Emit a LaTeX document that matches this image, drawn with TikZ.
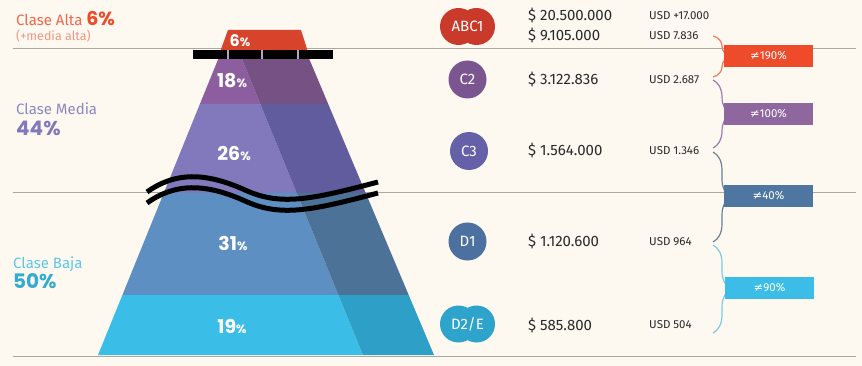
\documentclass[tikz,border=0pt]{standalone}
\usepackage{fontspec}
\setmainfont{Fira Sans}
\newfontfamily\popfont{Poppins}
\newfontfamily\symfont{DejaVu Sans}
\usetikzlibrary{decorations.pathreplacing}
\definecolor{bg}{HTML}{FDF9F1}
\definecolor{rule}{HTML}{ABA7A2}
\definecolor{ink}{HTML}{2A2A2A}
\definecolor{altared}{HTML}{D8432B}
\definecolor{mediafront}{HTML}{8D5E9F}
\definecolor{mediaside}{HTML}{765184}
\definecolor{lavfront}{HTML}{8179BC}
\definecolor{lavside}{HTML}{615C9E}
\definecolor{steelfront}{HTML}{5E8FC3}
\definecolor{steelside}{HTML}{4C7298}
\definecolor{cyanfront}{HTML}{3ABEE7}
\definecolor{cyanside}{HTML}{2E9FC6}
\definecolor{abcone}{HTML}{C93A2A}
\definecolor{ctwo}{HTML}{7B5590}
\definecolor{cthree}{HTML}{6660A8}
\definecolor{done}{HTML}{4C70A0}
\definecolor{dtwo}{HTML}{2EA3CB}
\definecolor{gapred}{HTML}{EE4B2B}
\definecolor{gappurple}{HTML}{8E679F}
\definecolor{gapsteel}{HTML}{4E76A0}
\definecolor{gapcyan}{HTML}{3BBDE8}
\definecolor{bracered}{HTML}{F07A63}
\definecolor{bracepurple}{HTML}{9A7AAD}
\definecolor{bracesteel}{HTML}{6D7F95}
\definecolor{bracecyan}{HTML}{7CC8E8}
\newcommand{\pc}{{\fontsize{12}{12}\selectfont\%}}
\newcommand{\approxne}{{\symfont ≠}}
\begin{document}
\begin{tikzpicture}[x=1pt,y=-1pt]
\tikzstyle{every node}+=[inner sep=0pt]
\tikzset{
  band/.style={text=white, font=\popfont\bfseries\fontsize{19}{19}\selectfont},
  money/.style={anchor=base west, text=ink, font=\fontsize{15}{15}\selectfont},
  usd/.style={anchor=base west, text=ink, font=\fontsize{11.5}{11.5}\selectfont},
  dot/.style={circle, minimum size=38pt, text=white, font=\fontsize{15}{15}\selectfont},
  duo/.style={text=white, font=\fontsize{15}{15}\selectfont},
  gapbox/.style={minimum width=89pt, minimum height=22pt, text=white, font=\fontsize{11.5}{11.5}\selectfont},
  sep/.style={draw=rule, line width=1pt},
  cbrace/.style={decorate, decoration={brace, amplitude=18pt}, line width=1.2pt},
  wave/.style={draw=black, line width=5pt},
  classname/.style={anchor=base west, font=\fontsize{15}{15}\selectfont},
  classpct/.style={anchor=base west, font=\popfont\bfseries\fontsize{20}{20}\selectfont}
}
\useasboundingbox (0,0) rectangle (862,366);
\fill [bg] (0,0) rectangle (862,366);
\draw [sep] (13,49) -- (856,49);
\draw [sep] (13,193) -- (856,193);
\draw [sep] (13,356) -- (856,356);
\fill [altared] (228,30) -- (301,30) -- (308,52) -- (220,52) -- cycle;
\fill [mediafront] (221.1,52) -- (239.0,52) -- (260.3,104) -- (199.9,104) -- cycle;
\fill [mediaside] (239.0,52) -- (306.3,52) -- (328.2,104) -- (260.3,104) -- cycle;
\fill [lavfront] (199.9,104) -- (260.3,104) -- (296.7,193) -- (163.8,193) -- cycle;
\fill [lavside] (260.3,104) -- (328.2,104) -- (365.7,193) -- (296.7,193) -- cycle;
\fill [steelfront] (163.8,193) -- (296.7,193) -- (338.4,295) -- (122.4,295) -- cycle;
\fill [steelside] (296.7,193) -- (365.7,193) -- (408.7,295) -- (338.4,295) -- cycle;
\fill [cyanfront] (122.4,295) -- (338.4,295) -- (363,355) -- (98,355) -- cycle;
\fill [cyanside] (338.4,295) -- (408.7,295) -- (434,355) -- (363,355) -- cycle;
\fill [black] (193,50) rectangle (333,59);
\draw [color=mediafront!60, line width=1.5pt] (228,50) -- (228,59) (262,50) -- (262,59) (298,50) -- (298,59);
\draw [wave] (147,192) .. controls (175,172) and (205,172) .. (245,190) .. controls (280,206) and (310,200) .. (378,182);
\draw [wave] (147,203) .. controls (175,183) and (205,183) .. (245,201) .. controls (280,217) and (310,211) .. (378,193);
\node [band, font=\popfont\bfseries\fontsize{16}{16}\selectfont] (p6) at (240,41) {6\pc};
\node [band] (p18) at (232,81) {18\pc};
\node [band] (p26) at (234,153) {26\pc};
\node [band] (p31) at (233,243) {31\pc};
\node [band] (p19) at (232,326) {19\pc};
\node [classname, text=gapred!85!white] (alta) at (16,26) {Clase Alta \textcolor{gapred}{\popfont\bfseries\fontsize{19}{19}\selectfont 6\%}};
\node [anchor=base west, text=bracered!80!white, font=\fontsize{12.5}{12.5}\selectfont] (altasub) at (16,41) {(+media alta)};
\node [classname, text=lavfront!90!white] (media) at (16,115) {Clase Media};
\node [classpct, text=lavfront] (mediap) at (16,136) {44\%};
\node [classname, text=cyanfront!85!white] (baja) at (13,268) {Clase Baja};
\node [classpct, text=cyanfront!90!black] (bajap) at (13,288) {50\%};
\fill [abcone] (458.5,26.5) circle (18.5pt) (476.5,26.5) circle (18.5pt);
\node [duo] (abc) at (467.5,26.5) {ABC1};
\node [dot, fill=ctwo] (c2) at (467.5,79.5) {C2};
\node [dot, fill=cthree] (c3) at (469,151) {C3};
\node [dot, fill=done] (d1) at (467.5,241.5) {D1};
\fill [dtwo] (458.5,324) circle (18.5pt) (476.5,324) circle (18.5pt);
\node [duo] (d2) at (467.5,324) {D2/E};
\node [money] (m1) at (528,21) {\$ 20.500.000};
\node [money] (m2) at (528,41) {\$ 9.105.000};
\node [money] (m3) at (528,85) {\$ 3.122.836};
\node [money] (m4) at (528,156) {\$ 1.564.000};
\node [money] (m5) at (528,247) {\$ 1.120.600};
\node [money] (m6) at (528,330) {\$ 585.800};
\node [usd] (u1) at (649,20) {USD +17.000};
\node [usd] (u2) at (649,40) {USD 7.836};
\node [usd] (u3) at (649,84) {USD 2.687};
\node [usd] (u4) at (649,155) {USD 1.346};
\node [usd] (u5) at (649,246) {USD 964};
\node [usd] (u6) at (649,328) {USD 504};
\draw [cbrace, draw=bracered] (713,36) -- (713,77);
\draw [cbrace, draw=bracepurple] (713,80) -- (713,148);
\draw [cbrace, draw=bracesteel] (713,152) -- (713,242);
\draw [cbrace, draw=bracecyan] (713,245) -- (713,333);
\node [gapbox, fill=gapred] (g190) at (768.5,56) {\approxne190\%};
\node [gapbox, fill=gappurple] (g100) at (768.5,114) {\approxne100\%};
\node [gapbox, fill=gapsteel] (g40) at (768.5,196) {\approxne40\%};
\node [gapbox, fill=gapcyan] (g90) at (769.5,288) {\approxne90\%};
\end{tikzpicture}
\end{document}
